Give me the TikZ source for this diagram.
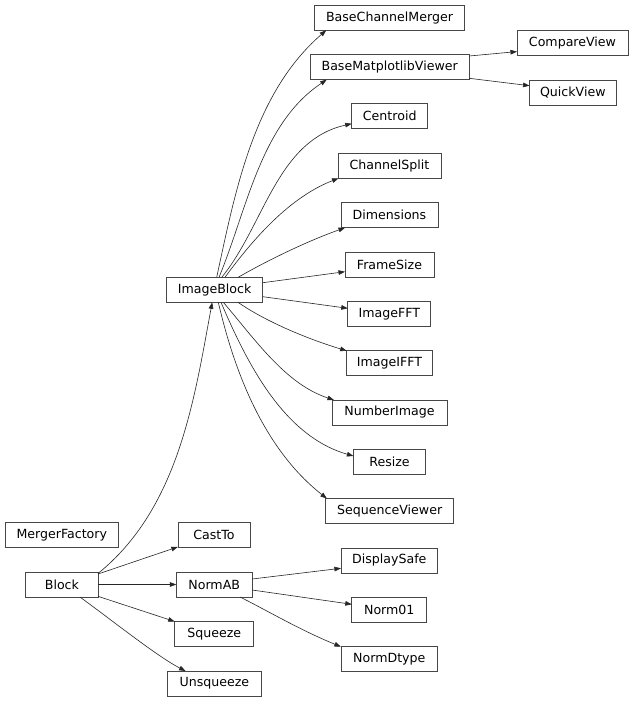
\documentclass[tikz,border=0pt]{standalone}
\usepackage{fontspec}
\setmainfont{DejaVu Sans}
\usetikzlibrary{arrows.meta}
\begin{document}
\begin{tikzpicture}[x=1pt,y=-1pt,
  cls/.style={draw=black!72, line width=0.8pt, fill=white, minimum height=25pt,
    inner xsep=0pt, inner ysep=0pt, outer sep=0pt, font=\fontsize{12.6}{14}\selectfont},
  inh/.style={draw=black!85, line width=0.6pt, -{Triangle[length=6.5pt,width=4.6pt]}}]
\useasboundingbox[fill=white] (0,0) rectangle (633,701);
% nodes
\node[cls, minimum width=150.5pt] (bcm)  at (389.5,17.8)  {BaseChannelMerger};
\node[cls, minimum width=159pt]   (bmv)  at (389.7,67.2)  {BaseMatplotlibViewer};
\node[cls, minimum width=111pt]   (cv)   at (572.5,43.3)  {CompareView};
\node[cls, minimum width=86.5pt]  (qv)   at (572.8,92.5)  {QuickView};
\node[cls, minimum width=76pt]    (cen)  at (389.7,116.3) {Centroid};
\node[cls, minimum width=103pt]   (cs)   at (389.5,165.8) {ChannelSplit};
\node[cls, minimum width=97pt]    (dim)  at (389.5,215.3) {Dimensions};
\node[cls, minimum width=89pt]    (fs)   at (389.5,264.5) {FrameSize};
\node[cls, minimum width=96.5pt]  (ib)   at (214.6,289.8) {ImageBlock};
\node[cls, minimum width=83pt]    (fft)  at (389.3,314)   {ImageFFT};
\node[cls, minimum width=86.7pt]  (ifft) at (389.5,363.3) {ImageIFFT};
\node[cls, minimum width=115pt]   (ni)   at (389.5,412.5) {NumberImage};
\node[cls, minimum width=72.2pt]  (rs)   at (389.5,461.8) {Resize};
\node[cls, minimum width=128.3pt] (sv)   at (389.7,511)   {SequenceViewer};
\node[cls, minimum width=113pt]   (mf)   at (61.8,535.2)  {MergerFactory};
\node[cls, minimum width=72.2pt]  (ct)   at (214,535.2)   {CastTo};
\node[cls, minimum width=72.2pt]  (blk)  at (61.9,584.5)  {Block};
\node[cls, minimum width=75.8pt]  (nab)  at (214.2,584.5) {NormAB};
\node[cls, minimum width=96.8pt]  (ds)   at (389.3,560.5) {DisplaySafe};
\node[cls, minimum width=75pt]    (n01)  at (389.3,609.8) {Norm01};
\node[cls, minimum width=79pt]    (sq)   at (214.2,633.7) {Squeeze};
\node[cls, minimum width=96pt]    (nd)   at (389.3,659.2) {NormDtype};
\node[cls, minimum width=94pt]    (usq)  at (214.4,683.5) {Unsqueeze};
% ImageBlock children (top side)
\draw[inh] ([xshift=2.1pt]ib.north) .. controls (235.6,189.5) and (254,92.9) .. ([xshift=-63.3pt]bcm.south);
\draw[inh] ([xshift=4.4pt]ib.north) .. controls (247.2,209.3) and (260.4,124) .. ([xshift=-63pt]bmv.south);
\draw[inh] ([xshift=7.1pt]ib.north) .. controls (264.4,225.1) and (276.7,140.5) .. ([yshift=-7.4pt]cen.west);
\draw[inh] ([xshift=10.4pt]ib.north) .. controls (254.4,237.1) and (290.6,196.9) .. ([xshift=0.5pt]cs.south west);
\draw[inh] ([xshift=23.6pt]ib.north) .. controls (268,260) and (310,240) .. ([xshift=4pt]dim.south west);
% ImageBlock children (right side)
\draw[inh] ([yshift=7.1pt]ib.east) -- ([yshift=-7.2pt]fs.west);
\draw[inh] ([yshift=-6.9pt]ib.east) -- ([yshift=5.7pt]fft.west);
% ImageBlock children (bottom side)
\draw[inh] ([xshift=23.4pt]ib.south) .. controls (260.5,318) and (298.3,336) .. ([xshift=0.5pt]ifft.north west);
\draw[inh] ([xshift=8.7pt]ib.south) .. controls (255.6,340) and (285.4,384) .. ([xshift=2pt]ni.north west);
\draw[inh] ([xshift=6.4pt]ib.south) .. controls (247.9,365.4) and (284.4,436.2) .. ([yshift=5.8pt]rs.west);
\draw[inh] ([xshift=3.7pt]ib.south) .. controls (235.6,376.8) and (266,450.6) .. ([xshift=1.3pt]sv.north west);
% Block children
\draw[inh] ([yshift=11pt]blk.east) .. controls (178.6,508.3) and (194.2,399.6) .. ([xshift=-2.4pt]ib.south);
\draw[inh] ([yshift=10.5pt]blk.east) -- ([yshift=0.8pt]ct.south west);
\draw[inh] (blk.east) -- (nab.west);
\draw[inh] ([yshift=-11.8pt]blk.east) -- ([yshift=-0.3pt]sq.north west);
\draw[inh] ([xshift=18pt]blk.south) .. controls (109,618) and (158,657) .. ([xshift=18.2pt]usq.north west);
% NormAB children
\draw[inh] ([yshift=5.5pt]nab.east) -- ([yshift=-7.8pt]ds.west);
\draw[inh] ([yshift=-5.5pt]nab.east) -- ([yshift=5.5pt]n01.west);
\draw[inh] ([xshift=25.8pt]nab.south) .. controls (268,611) and (300,630) .. ([xshift=-0.4pt]nd.north west);
% BaseMatplotlibViewer children
\draw[inh] ([yshift=11.2pt]bmv.east) -- ([yshift=-8.3pt]cv.west);
\draw[inh] ([yshift=-11.1pt]bmv.east) -- ([yshift=6.8pt]qv.west);
\end{tikzpicture}
\end{document}
